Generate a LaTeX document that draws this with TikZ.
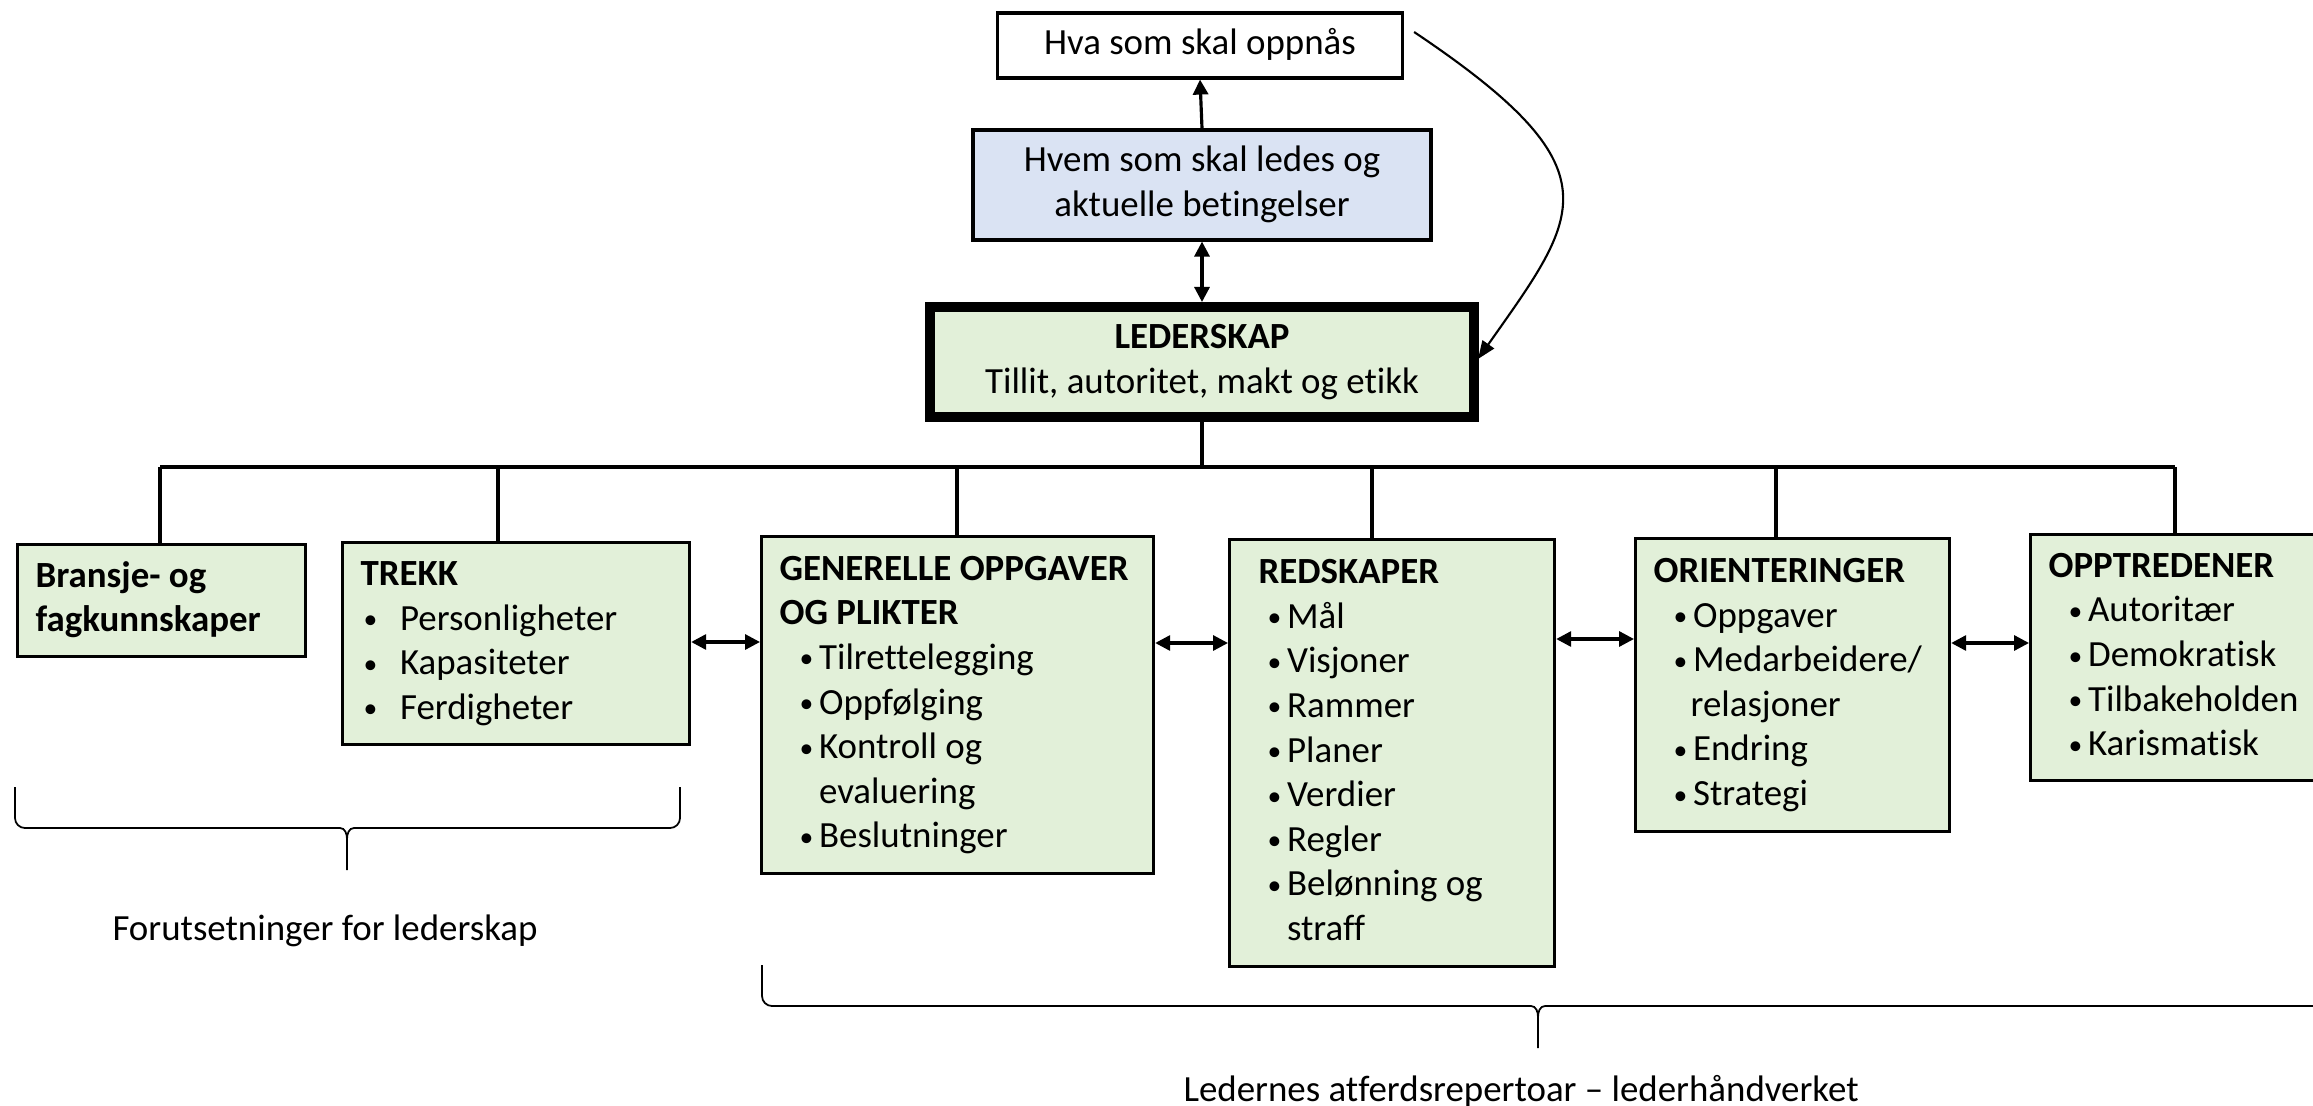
\documentclass[tikz,border=0pt]{standalone}
\usepackage{fontspec}
\usepackage{graphicx}
\setmainfont{Carlito}[Ligatures=NoCommon]
\usetikzlibrary{arrows.meta,positioning,calc}
\definecolor{lsGrn}{HTML}{E2F0D9}
\definecolor{lsBla}{HTML}{DAE3F3}
\tikzset{
  ls/.style={font=\fontsize{10.5}{12.7}\selectfont, line width=.9pt, >={Triangle[length=1.5mm, width=1.5mm]}},
  topp/.style={draw, align=flush center, inner sep=0pt, execute at begin node=\strut, execute at end node=\strut},
  boks/.style={draw, fill=lsGrn, align=flush left, anchor=north west, inner xsep=1.8mm, inner ysep=0pt,
               execute at begin node=\strut, execute at end node=\strut},
  gren/.style={-, line width=.9pt},
  kurve/.style={line width=.6pt, -{Triangle[length=1.8mm, width=1.4mm]}},
  klamme/.style={line width=.5pt},
}
\newcommand{\prikk}{\raisebox{.04em}{\scalebox{.75}{\textbullet}}}
\newcommand{\pkt}{\hspace*{2.0mm}\makebox[1.95mm][l]{\prikk}}
\newcommand{\pktv}{\hspace*{.3mm}\makebox[3.65mm][l]{\prikk}}
\newcommand{\forts}{\hspace*{3.95mm}}

\begin{document}
\begin{tikzpicture}[ls]
\clip (0,0) rectangle (23.13,-11.06);

% toppen
\node[topp, text width=40.5mm, minimum height=6.5mm] (hva) at (12.0,-0.455) {Hva som skal oppnås};
\node[topp, fill=lsBla, text width=45.8mm, minimum height=11mm] (hvem) at (12.02,-1.85) {Hvem som skal ledes og\\aktuelle betingelser};
\node[topp, fill=lsGrn, line width=1mm, text width=54.4mm, minimum height=11mm] (leder) at (12.02,-3.62) {\textbf{LEDERSKAP}\\Tillit, autoritet, makt og etikk};

% boksene nederst
\node[boks, text width=25.2mm, minimum height=11.2mm] (bransje) at (0.16,-5.43) {\textbf{Bransje- og}\\\textbf{fagkunnskaper}};
\node[boks, text width=31.1mm, minimum height=20.2mm] (trekk) at (3.41,-5.41) {\textbf{TREKK}\\\pktv Personligheter\\\pktv Kapasiteter\\\pktv Ferdigheter};
\node[boks, text width=35.6mm, minimum height=33.7mm] (gen) at (7.60,-5.35) {\textbf{GENERELLE OPPGAVER}\\\textbf{OG PLIKTER}\\\pkt Tilrettelegging\\\pkt Oppfølging\\\pkt Kontroll og\\\forts evaluering\\\pkt Beslutninger};
\node[boks, text width=28.9mm, minimum height=42.7mm] (red) at (12.28,-5.38) {\hspace*{1.1mm}\textbf{REDSKAPER}\\\pkt Mål\\\pkt Visjoner\\\pkt Rammer\\\pkt Planer\\\pkt Verdier\\\pkt Regler\\\pkt Belønning og\\\forts straff};
\node[boks, text width=27.8mm, minimum height=29.3mm] (ori) at (16.34,-5.37) {\textbf{ORIENTERINGER}\\\pkt Oppgaver\\\pkt Medarbeidere/\\\hspace*{3.7mm}relasjoner\\\pkt Endring\\\pkt Strategi};
\node[boks, text width=30mm, minimum height=24.6mm] (opp) at (20.29,-5.33) {\textbf{OPPTREDENER}\\\pkt Autoritær\\\pkt Demokratisk\\\pkt Tilbakeholden\\\pkt Karismatisk};

\node (forut) at (3.25,-9.31) {Forutsetninger for lederskap};
\node (atferd) at (15.21,-10.91) {Ledernes atferdsrepertoar – lederhåndverket};

% piler
\draw[->] (hvem.north) -- (hva.south);
\draw[<->] (leder.north) -- (hvem.south);
\coordinate (kS) at ([shift={(1mm,1.35mm)}]hva.east);
\coordinate (kE) at ([shift={(-.1mm,.3mm)}]leder.east);
\draw[kurve] (kS) .. controls (16.2,-1.70) and (15.8,-2.14) .. (kE);

% greiner
\draw[gren] (leder.south) -- (leder.south |- 0,-4.67);
\draw[gren] (1.60,-4.67) -- (21.75,-4.67);
\foreach \n/\x in {bransje/1.60, trekk/4.98, gen/9.57, red/13.72, ori/17.76, opp/21.75}
  \draw[gren] (\x,-4.67) -- (\n.north -| \x,0);
\foreach \a/\b/\y in {trekk/gen/6.42, gen/red/6.43, red/ori/6.39, ori/opp/6.43}
  \draw[<->] (\a.east |- 0,-\y) -- (\b.west |- 0,-\y);

% klammer
\foreach \l/\m/\r/\t in {0.15/3.47/6.80/7.87, 7.62/15.38/23.5/9.65}
  \draw[klamme] (\l,-\t) -- ({\l},{-\t-0.31}) to[out=-90,in=180] ({\l+0.1},{-\t-0.41})
    -- ({\m-0.07},{-\t-0.41}) to[out=0,in=90] ({\m},{-\t-0.52}) -- ({\m},{-\t-0.83})
    -- ({\m},{-\t-0.52}) to[out=90,in=180] ({\m+0.07},{-\t-0.41})
    -- ({\r-0.1},{-\t-0.41}) to[out=0,in=-90] ({\r},{-\t-0.31}) -- (\r,-\t);
\end{tikzpicture}
\end{document}
